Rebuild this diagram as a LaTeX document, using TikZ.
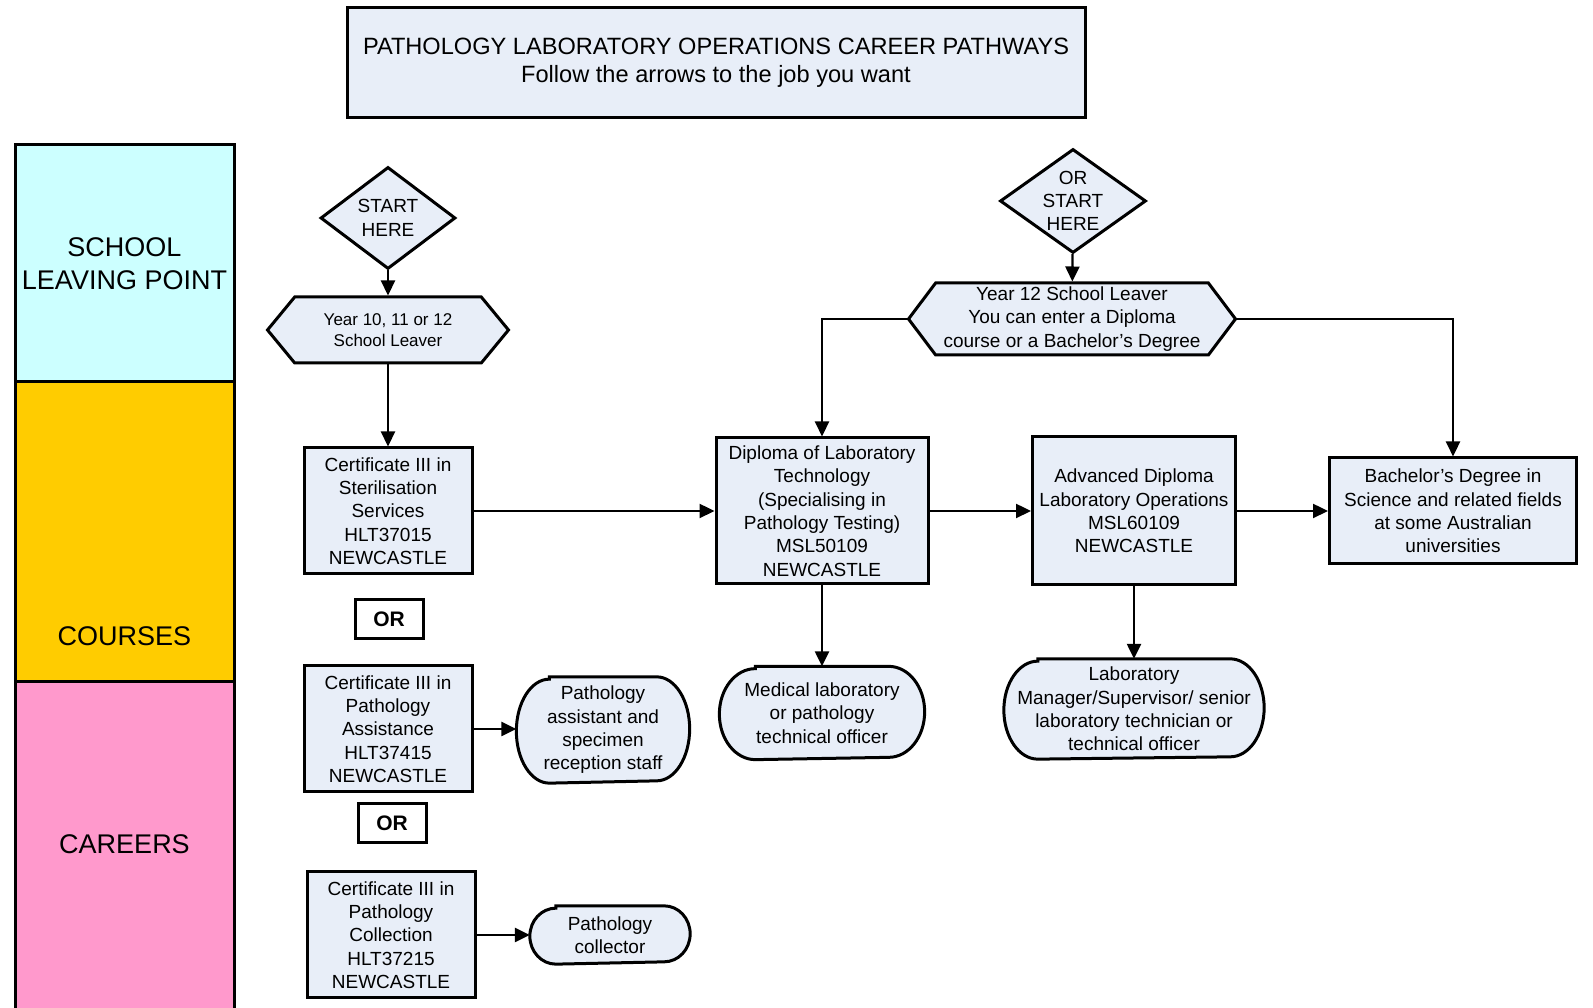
\documentclass[tikz,border=0pt]{standalone}
\usepackage{fontspec}
\setmainfont{Liberation Sans}
\usetikzlibrary{arrows.meta, positioning, shapes.geometric, shapes.symbols, backgrounds}

\definecolor{boxfill}{RGB}{232,238,248}
\definecolor{bandcyan}{RGB}{204,255,255}
\definecolor{bandyellow}{RGB}{255,204,0}
\definecolor{bandpink}{RGB}{255,153,204}

\newcommand{\boxfont}{\fontsize{19}{23.3}\selectfont}
\newcommand{\hexfont}{\fontsize{17}{21.3}\selectfont}
\newcommand{\titlefont}{\fontsize{23.6}{28.4}\selectfont}
\newcommand{\sidefont}{\fontsize{27}{33.5}\selectfont}
\newcommand{\orfont}{\bfseries\fontsize{21}{25}\selectfont}

\begin{document}
\begin{tikzpicture}[
  x=1pt, y=1pt, line width=2.3pt,
  sz/.style 2 args={minimum width=#1pt, minimum height=#2pt},
  box/.style={draw, line width=3pt, fill=boxfill, align=center, font=\boxfont, inner sep=0pt},
  term/.style={align=center, font=\boxfont, inner sep=0pt},
  dia/.style={diamond, draw, line width=3pt, fill=boxfill, inner sep=0pt},
  hexa/.style={signal, signal to=west and east, signal pointer angle=#1,
               draw, line width=3pt, fill=boxfill, inner sep=0pt},
  orbox/.style={draw, line width=3pt, fill=white, font=\orfont, minimum width=68pt,
                minimum height=39pt, inner sep=0pt},
  band/.style={draw, line width=3pt, inner sep=0pt, align=center, font=\sidefont},
  inlbl/.style={align=center, font=\boxfont},
  arrow/.style={-{Triangle[length=15pt, width=14pt]}}
]
\useasboundingbox (0,0) rectangle (1593,1008);

% side column
\node[band, fill=bandcyan, sz={219}{237}] (slp) at (124.5,744.5) {SCHOOL\\LEAVING POINT};
\node[band, fill=bandyellow, sz={219}{300},
      label={[font=\sidefont, yshift=-104pt]center:COURSES}] (crs) at (124.5,476) {};
\node[band, fill=bandpink, sz={219}{340},
      label={[font=\sidefont, yshift=8pt]center:CAREERS}] (car) at (124.5,156) {};

\node[box, font=\titlefont, sz={738}{110}] (title) at (716,945)
  {PATHOLOGY LABORATORY OPERATIONS CAREER PATHWAYS\\Follow the arrows to the job you want};

% left pathway
\node[dia, sz={135}{102}, label={[inlbl]center:START\\HERE}] (start1) at (388,790) {};
\node[hexa=101, sz={241}{66},
      label={[inlbl, font=\hexfont]center:{Year 10, 11 or 12\\School Leaver}}] (leave1) at (388,678) {};
\node[box, sz={168}{126}] (sterile) at (388,497) {Certificate III in\\Sterilisation\\Services\\HLT37015\\NEWCASTLE};
\node[orbox] (or1) at (389,389) {OR};
\node[box, sz={168}{126}] (assist) at (388,279) {Certificate III in\\Pathology\\Assistance\\HLT37415\\NEWCASTLE};
\node[orbox] (or2) at (392,185) {OR};
\node[box, sz={168}{126}] (collect) at (391,73) {Certificate III in\\Pathology\\Collection\\HLT37215\\NEWCASTLE};
\node[term, sz={171}{104}] (assistjob) at (603,278) {Pathology\\assistant and\\specimen\\reception staff};
\node[term, sz={158}{56}] (collectjob) at (610,73) {Pathology\\collector};

% right pathway
\node[dia, sz={146}{104}, label={[inlbl]center:OR\\START\\HERE}] (start2) at (1073,807) {};
\node[hexa=106, sz={327}{72},
      label={[inlbl]center:{Year 12 School Leaver\\You can enter a Diploma\\course or a Bachelor’s Degree}}] (leave2) at (1072,689) {};
\node[box, sz={212}{146}] (dipl) at (822,497) {Diploma of Laboratory\\Technology\\(Specialising in\\Pathology Testing)\\MSL50109\\NEWCASTLE};
\node[box, sz={203}{148}] (adv) at (1134,497) {Advanced Diploma\\Laboratory Operations\\MSL60109\\NEWCASTLE};
\node[box, sz={247}{106}] (bach) at (1453,497) {Bachelor’s Degree in\\Science and related fields\\at some Australian\\universities};
\node[term, sz={203}{91}] (techjob) at (822,295) {Medical laboratory\\or pathology\\technical officer};
\node[term, sz={258}{98}] (mgrjob) at (1134,299) {Laboratory\\Manager/Supervisor/ senior\\laboratory technician or\\technical officer};

% oval outlines behind the job texts
\begin{scope}[on background layer]
\foreach \nd/\rx/\ry in {assistjob/33/52, collectjob/26/28, techjob/36/45.5, mgrjob/34/49}
  \draw[line width=3pt, fill=boxfill] ([xshift=\rx]\nd.north west) -- ([xshift=-\rx]\nd.north east)
    arc[start angle=90, end angle=-90, x radius=\rx, y radius=\ry]
    -- ([xshift=\rx]\nd.south west)
    arc[start angle=270, end angle=90, x radius=\rx, y radius=\ry] -- cycle;
\end{scope}

\draw[arrow] (start1) -- (leave1);
\draw[arrow] (leave1) -- (sterile);
\draw[arrow] (sterile) -- (dipl);
\draw[arrow] (dipl) -- (adv);
\draw[arrow] (adv) -- (bach);
\draw[arrow] (dipl) -- (techjob);
\draw[arrow] (adv) -- (mgrjob);
\draw[arrow] (assist.east) -- (assist.east -| assistjob.west);
\draw[arrow] (collect) -- (collectjob);
\draw[arrow] (start2) -- (leave2);
\draw[arrow] (leave2.west) -| (dipl.north);
\draw[arrow] (leave2.east) -| (bach.north);
\end{tikzpicture}
\end{document}
